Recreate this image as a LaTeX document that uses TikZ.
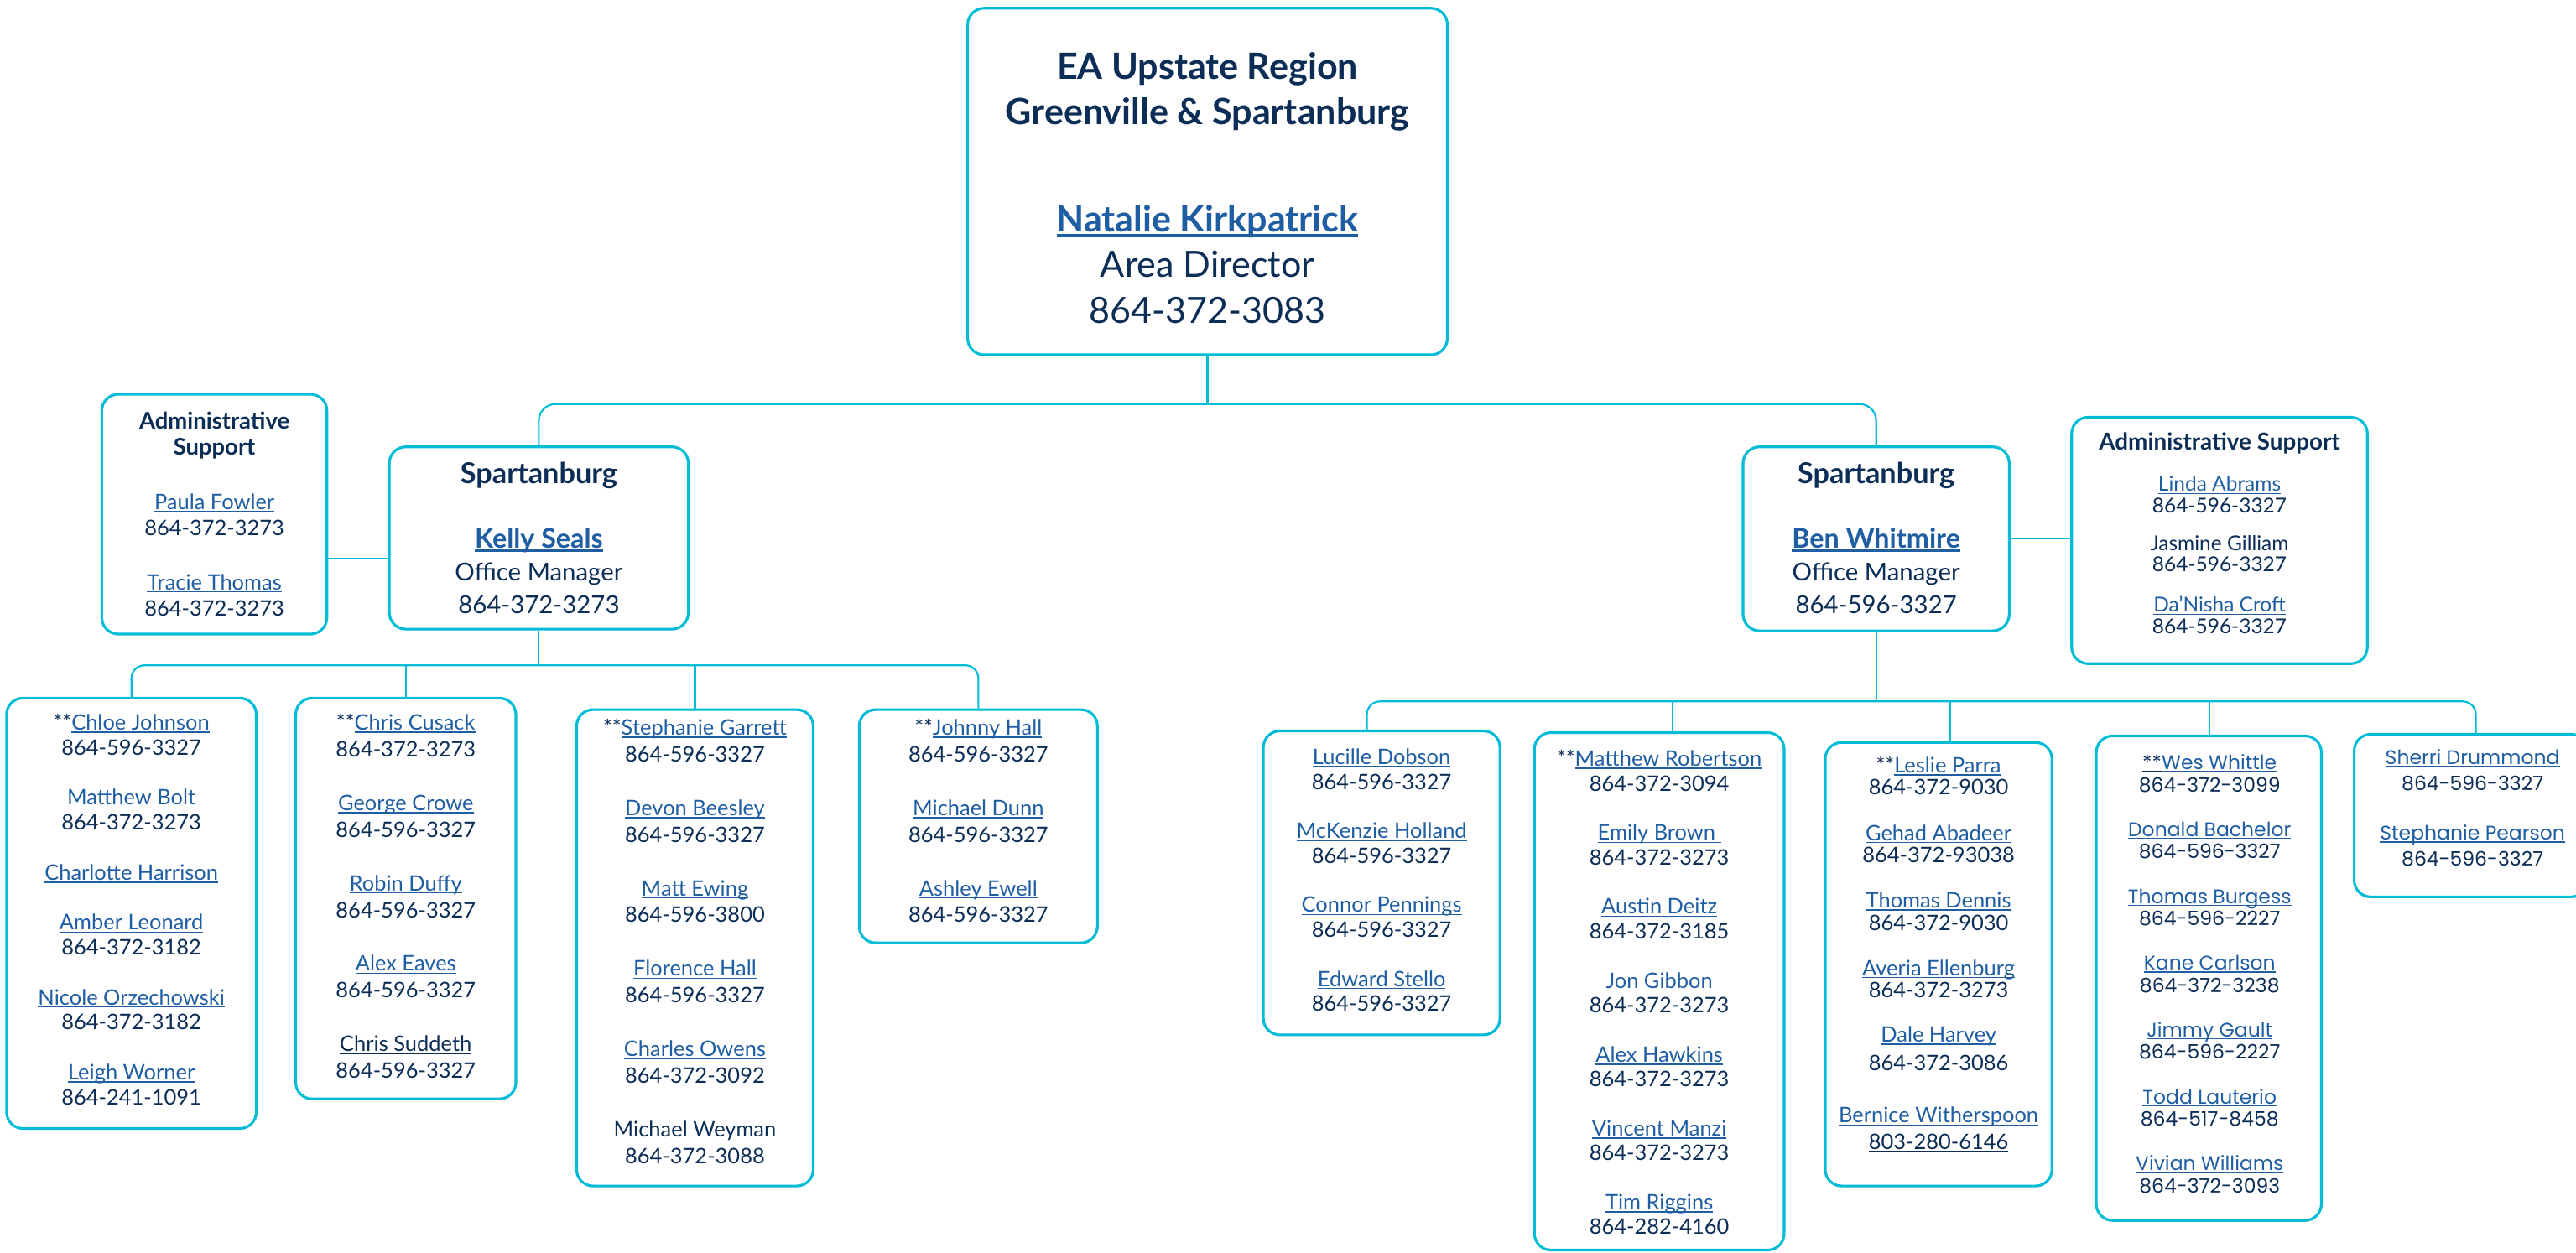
\documentclass[tikz,border=0pt]{standalone}
\usepackage{fontspec}
\setmainfont{Lato}
\newfontfamily\geo{Poppins}
\definecolor{bord}{RGB}{0,188,214}
\definecolor{navy}{RGB}{12,45,86}
\definecolor{linkblue}{RGB}{31,94,163}
\newsavebox\ulbox
\newcommand\uln[1]{\sbox\ulbox{#1}\rlap{\usebox\ulbox}\rule[-0.13em]{\wd\ulbox}{0.06em}}
\newcommand\ulb[1]{\sbox\ulbox{#1}\rlap{\usebox\ulbox}\rule[-0.15em]{\wd\ulbox}{0.09em}}
\newcommand\lk[1]{{\color{linkblue}\uln{#1}}}
\newcommand\lkb[1]{{\color{linkblue}\ulb{\textbf{#1}}}}
\newcommand\stk[1]{\begin{tabular}[t]{@{}c@{}}#1\end{tabular}}
\begin{document}
\begin{tikzpicture}[x=1pt,y=-1pt,
  obox/.style={draw=bord,line width=1.6pt,rounded corners=10pt,inner sep=0pt},
  conn/.style={draw=bord,line width=1.1pt},
  txt/.style={anchor=base,inner sep=0pt,text=navy}]
\useasboundingbox (0,0) rectangle (1568,762.8);

% boxes
\node[obox,minimum width=292pt,minimum height=211pt] (top) at (735,110.5) {};
\node[obox,minimum width=182pt,minimum height=111pt] (lsp) at (328,327.5) {};
\node[obox,minimum width=137pt,minimum height=146pt] (ladm) at (130.5,313) {};
\node[obox,minimum width=162pt,minimum height=112pt] (rsp) at (1142,328) {};
\node[obox,minimum width=180pt,minimum height=150pt] (radm) at (1351,329) {};
\node[obox,minimum width=152pt,minimum height=262pt] (b1) at (80,556) {};
\node[obox,minimum width=134pt,minimum height=244pt] (b2) at (247,547) {};
\node[obox,minimum width=144pt,minimum height=290pt] (b3) at (423,577) {};
\node[obox,minimum width=145pt,minimum height=142pt] (b4) at (595.5,503) {};
\node[obox,minimum width=144pt,minimum height=185pt] (r1) at (841,537.5) {};
\node[obox,minimum width=152pt,minimum height=315pt] (r2) at (1010,603.5) {};
\node[obox,minimum width=138pt,minimum height=270pt] (r3) at (1180,587) {};
\node[obox,minimum width=137pt,minimum height=295pt] (r4) at (1344.5,595.5) {};
\node[obox,minimum width=142pt,minimum height=99pt] (r5) at (1504,496.5) {};

% connector coordinates
\coordinate (tbus) at (0,246);
\coordinate (lbus) at (0,405);
\coordinate (rbus) at (0,427);
\coordinate (la) at (0,340);
\coordinate (ra) at (0,328);
\coordinate (d1) at (832,0);
\coordinate (d2) at (1018,0);
\coordinate (d3) at (1187,0);
\coordinate (d4) at (1345,0);
\coordinate (d5) at (1507,0);

\draw[conn] (top.south) -- (top.south |- tbus);
\draw[conn,rounded corners=10pt] (lsp.north) -- (lsp.north |- tbus) -- (rsp.north |- tbus) -- (rsp.north);
\draw[conn] (ladm.east |- la) -- (lsp.west |- la);
\draw[conn] (rsp.east |- ra) -- (radm.west |- ra);
\draw[conn] (lsp.south) -- (lsp.south |- lbus);
\draw[conn,rounded corners=8pt] (b1.north) -- (b1.north |- lbus) -- (b4.north |- lbus) -- (b4.north);
\draw[conn] (b2.north |- lbus) -- (b2.north);
\draw[conn] (b3.north |- lbus) -- (b3.north);
\draw[conn] (rsp.south) -- (rsp.south |- rbus);
\draw[conn,rounded corners=8pt] (r1.north -| d1) -- (d1 |- rbus) -- (d5 |- rbus) -- (r5.north -| d5);
\draw[conn] (d2 |- rbus) -- (r2.north -| d2);
\draw[conn] (d3 |- rbus) -- (r3.north -| d3);
\draw[conn] (d4 |- rbus) -- (r4.north -| d4);

% texts
\node[txt,font=\fontsize{22}{28}\selectfont] (toptx) at (735,48) {\stk{\textbf{EA Upstate Region}\\\textbf{Greenville \& Spartanburg}\\[37pt]\lkb{Natalie Kirkpatrick}\\Area Director\\864-372-3083}};

\node[txt,font=\fontsize{15}{20}\selectfont] (lsptx) at (328,294.5) {\stk{{\fontsize{17.5}{20}\selectfont\textbf{Spartanburg}}\\[19pt]{\fontsize{16.5}{20}\selectfont\lkb{Kelly Seals}}\\Office Manager\\864-372-3273}};

\node[txt,font=\fontsize{15}{20}\selectfont] (rsptx) at (1142,294.5) {\stk{{\fontsize{17.5}{20}\selectfont\textbf{Spartanburg}}\\[19pt]{\fontsize{16.5}{20}\selectfont\lkb{Ben Whitmire}}\\Office Manager\\864-596-3327}};

\node[txt,font=\fontsize{13}{16}\selectfont] (ladmtx) at (130.5,261) {\stk{{\fontsize{14}{16}\selectfont\textbf{Administrative}}\\{\fontsize{14}{16}\selectfont\textbf{Support}}\\[17pt]\lk{Paula Fowler}\\864-372-3273\\[17pt]\lk{Tracie Thomas}\\864-372-3273}};

\node[txt,font=\fontsize{12.5}{13}\selectfont] (radmtx) at (1351,274) {\stk{{\fontsize{14.2}{13}\selectfont\textbf{Administrative Support}}\\[12pt]\lk{Linda Abrams}\\864-596-3327\\[10pt]Jasmine Gilliam\\864-596-3327\\[11pt]\lk{Da’Nisha Croft}\\864-596-3327}};

\node[txt,font=\fontsize{13}{15.2}\selectfont] (b1tx) at (80,444.5) {\stk{**\lk{Chloe Johnson}\\864-596-3327\\[15.2pt]{\color{linkblue}Matthew Bolt}\\864-372-3273\\[15.2pt]\lk{Charlotte Harrison}\\[15.2pt]\lk{Amber Leonard}\\864-372-3182\\[15.2pt]\lk{Nicole Orzechowski}\\864-372-3182\\[15.2pt]\lk{Leigh Worner}\\864-241-1091}};

\node[txt,font=\fontsize{13}{16.3}\selectfont] (b2tx) at (247,444.5) {\stk{**\lk{Chris Cusack}\\864-372-3273\\[16.3pt]\lk{George Crowe}\\864-596-3327\\[16.3pt]\lk{Robin Duffy}\\864-596-3327\\[16.3pt]\lk{Alex Eaves}\\864-596-3327\\[16.3pt]\uln{Chris Suddeth}\\864-596-3327}};

\node[txt,font=\fontsize{13}{16.3}\selectfont] (b3tx) at (423,447.5) {\stk{**\lk{Stephanie Garrett}\\864-596-3327\\[16.3pt]\lk{Devon Beesley}\\864-596-3327\\[16.3pt]\lk{Matt Ewing}\\864-596-3800\\[16.3pt]\lk{Florence Hall}\\864-596-3327\\[16.3pt]\lk{Charles Owens}\\864-372-3092\\[16.3pt]Michael Weyman\\864-372-3088}};

\node[txt,font=\fontsize{13}{16.3}\selectfont] (b4tx) at (595.5,447.5) {\stk{**\lk{Johnny Hall}\\864-596-3327\\[16.3pt]\lk{Michael Dunn}\\864-596-3327\\[16.3pt]\lk{Ashley Ewell}\\864-596-3327}};

\node[txt,font=\fontsize{13}{15}\selectfont] (r1tx) at (841,465.5) {\stk{\lk{Lucille Dobson}\\864-596-3327\\[15pt]\lk{McKenzie Holland}\\864-596-3327\\[15pt]\lk{Connor Pennings}\\864-596-3327\\[15pt]\lk{Edward Stello}\\864-596-3327}};

\node[txt,font=\fontsize{13}{15}\selectfont] (r2tx) at (1010,466.5) {\stk{**\lk{Matthew Robertson}\\864-372-3094\\[15pt]\lk{Emily Brown\ }\\864-372-3273\\[15pt]\lk{Austin Deitz}\\864-372-3185\\[15pt]\lk{Jon Gibbon}\\864-372-3273\\[15pt]\lk{Alex Hawkins}\\864-372-3273\\[15pt]\lk{Vincent Manzi}\\864-372-3273\\[15pt]\lk{Tim Riggins}\\864-282-4160}};

\node[txt,font=\fontsize{13}{13.5}\selectfont] (r3tx) at (1180,470.5) {\stk{**\lk{Leslie Parra}\\864-372-9030\\[14pt]\lk{Gehad Abadeer}\\864-372-93038\\[14pt]\lk{Thomas Dennis}\\864-372-9030\\[14pt]\lk{Averia Ellenburg}\\864-372-3273\\[13.5pt]\lk{Dale Harvey}\\[3.5pt]864-372-3086\\[18.5pt]\lk{Bernice Witherspoon}\\[2.5pt]\uln{803-280-6146}}};

\node[txt,font=\geo\fontsize{12}{13.5}\selectfont] (r4tx) at (1345,468.5) {\stk{\uln{**}\lk{Wes Whittle}\\864-372-3099\\[13.7pt]\lk{Donald Bachelor}\\864-596-3327\\[13.7pt]\lk{Thomas Burgess}\\864-596-2227\\[13.7pt]\lk{Kane Carlson}\\864-372-3238\\[13.7pt]\lk{Jimmy Gault}\\864-596-2227\\[13.7pt]\lk{Todd Lauterio}\\864-517-8458\\[13.7pt]\lk{Vivian Williams}\\864-372-3093}};

\node[txt,font=\geo\fontsize{12}{15.5}\selectfont] (r5tx) at (1505,465.5) {\stk{\lk{Sherri Drummond}\\864-596-3327\\[15pt]\lk{Stephanie Pearson}\\864-596-3327}};
\end{tikzpicture}
\end{document}
